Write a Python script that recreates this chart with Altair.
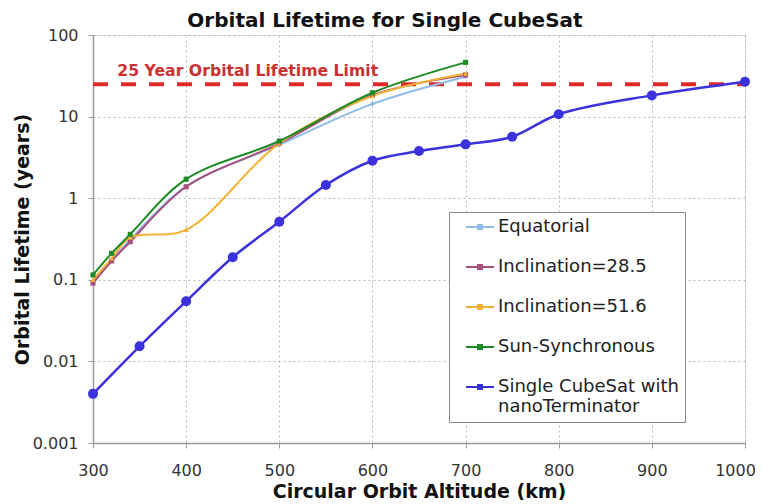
import altair as alt
import pandas as pd

# ---- data ----
alt_km = [300, 320, 340, 400, 500, 600, 700]
equatorial = [0.095, 0.175, 0.31, 1.40, 4.5, 14.3, 30.8]
incl_285 = [0.091, 0.17, 0.293, 1.38, 4.7, 18.4, 32.4]
incl_516 = [0.10, 0.183, 0.33, 0.41, 4.7, 17.9, 33.7]
sun_sync = [0.115, 0.211, 0.361, 1.71, 5.02, 19.6, 46.2]

nano_km = [300, 350, 400, 450, 500, 550, 600, 650, 700, 750, 800, 900, 1000]
nano_vals = [0.004, 0.0153, 0.0546, 0.189, 0.515, 1.45, 2.88, 3.78, 4.57, 5.67, 10.7, 18.2, 26.8]

limit_years = 25
limit_label = "25 Year Orbital Lifetime Limit"

series_names = ["Equatorial", "Inclination=28.5", "Inclination=51.6",
                "Sun-Synchronous", "Single CubeSat with nanoTerminator"]
series_colors = ["#8fbbea", "#a8507c", "#f2b233", "#1e8a24", "#3a32dc"]
series_shapes = ["diamond", "square", "triangle-up", "square", "circle"]
marker_codes = ["m0", "m1", "m2", "m3", "m4"]

x_ticks = [300, 400, 500, 600, 700, 800, 900, 1000]
y_ticks = [0.001, 0.01, 0.1, 1, 10, 100]

rows = []
for i, (name, vals) in enumerate(zip(series_names[:4], [equatorial, incl_285, incl_516, sun_sync])):
    for k, v in zip(alt_km, vals):
        rows.append({"series": name, "marker": marker_codes[i], "km": k, "years": v})
for k, v in zip(nano_km, nano_vals):
    rows.append({"series": series_names[4], "marker": marker_codes[4], "km": k, "years": v})
df = pd.DataFrame(rows)

FONT = "DejaVu Sans"

x_scale = alt.Scale(domain=[300, 1000], nice=False, zero=False)
y_scale = alt.Scale(type="log", domain=[0.001, 100], nice=False)

x_axis = alt.Axis(values=x_ticks, format="d", title="Circular Orbit Altitude (km)",
                  grid=True, gridDash=[2, 3], gridColor="#b8b8b8",
                  domainColor="#9a9a9a", domainWidth=1.5,
                  tickColor="#9a9a9a", tickSize=5,
                  labelFontSize=16, labelColor="#333", labelFont=FONT,
                  labelPadding=14, labelFlush=False,
                  labelOffset={"condition": {"test": "datum.value == 1000", "value": -10},
                               "value": 0},
                  titleFontSize=19, titleFont=FONT, titleFontWeight="bold",
                  titleColor="#111", titleY=48, titleBaseline="middle")
y_axis = alt.Axis(values=y_ticks, format="~g", title="Orbital Lifetime (years)",
                  grid=True, gridDash=[2, 3], gridColor="#b8b8b8",
                  domainColor="#9a9a9a", domainWidth=1.5,
                  tickColor="#9a9a9a", tickSize=5,
                  labelFontSize=16, labelColor="#333", labelFont=FONT,
                  labelPadding=10,
                  titleFontSize=19, titleFont=FONT, titleFontWeight="bold",
                  titleColor="#111", titleX=-71, titleBaseline="middle")

color_scale = alt.Scale(domain=series_names, range=series_colors)

legend = alt.Legend(
    title=None, orient="none", legendX=356, legendY=177,
    symbolType="M-2,0H2M-0.28,-0.28H0.28V0.28H-0.28Z", symbolSize=196,
    symbolStrokeWidth=2, symbolOffset=16, labelOffset=9,
    labelFontSize=18, labelFont=FONT, labelColor="#222", labelLimit=400,
    rowPadding=22, padding=6,
    strokeColor="#888", fillColor="white",
    labelExpr="datum.label == 'Single CubeSat with nanoTerminator' ? ['Single CubeSat with', 'nanoTerminator'] : datum.label",
)

base = alt.Chart(df)
X = alt.X("km:Q", scale=x_scale, axis=x_axis)
Y = alt.Y("years:Q", scale=y_scale, axis=y_axis)
is_nano = alt.datum.series == series_names[4]

lines_small = base.transform_filter(~is_nano).mark_line(
    interpolate="catmull-rom", strokeWidth=2).encode(
    x=X, y=Y, color=alt.Color("series:N", scale=color_scale, legend=legend))
lines_big = base.transform_filter(is_nano).mark_line(
    interpolate="catmull-rom", strokeWidth=2.5).encode(
    x=X, y=Y, color=alt.Color("series:N", scale=color_scale, legend=legend))

marker_fill = alt.Fill("marker:N", scale=alt.Scale(domain=marker_codes, range=series_colors),
                       legend=None)
points_small = base.transform_filter(~is_nano).mark_point(
    filled=True, opacity=1, strokeWidth=0, size=26).encode(
    x=X, y=Y, fill=marker_fill,
    shape=alt.Shape("marker:N", scale=alt.Scale(domain=marker_codes, range=series_shapes),
                    legend=None))
points_big = base.transform_filter(is_nano).mark_point(
    filled=True, opacity=1, strokeWidth=0, size=100, shape="circle").encode(
    x=X, y=Y, fill=marker_fill)

limit_df = pd.DataFrame({"x0": [300], "x1": [1000], "y": [limit_years],
                         "label": [limit_label], "lx": [326]})
limit_rule = alt.Chart(limit_df).mark_rule(color="#e02a2a", strokeWidth=4,
                                           strokeDash=[15, 13]).encode(
    x=alt.X("x0:Q", scale=x_scale, axis=x_axis), x2="x1:Q",
    y=alt.Y("y:Q", scale=y_scale, axis=y_axis))
limit_text = alt.Chart(limit_df).mark_text(
    align="left", baseline="middle", dy=-13, font=FONT, fontSize=15.7,
    fontWeight="bold", color="#cc3030").encode(
    x=alt.X("lx:Q", scale=x_scale, axis=x_axis),
    y=alt.Y("y:Q", scale=y_scale, axis=y_axis), text="label:N")

chart = alt.layer(limit_rule, lines_small, lines_big, points_small, points_big,
                  limit_text).properties(
    width=652, height=408,
    title=alt.Title("Orbital Lifetime for Single CubeSat", fontSize=20, font=FONT,
                    fontWeight="bold", color="#111", offset=-4, dx=-34),
    autosize=alt.AutoSizeParams(type="none"),
    padding={"left": 85, "top": 27, "right": 10, "bottom": 57},
).configure_view(stroke="#c8c8c8", strokeWidth=1).configure(background="white")

chart.save("out.html", embed_options={"renderer": "svg", "actions": False})
